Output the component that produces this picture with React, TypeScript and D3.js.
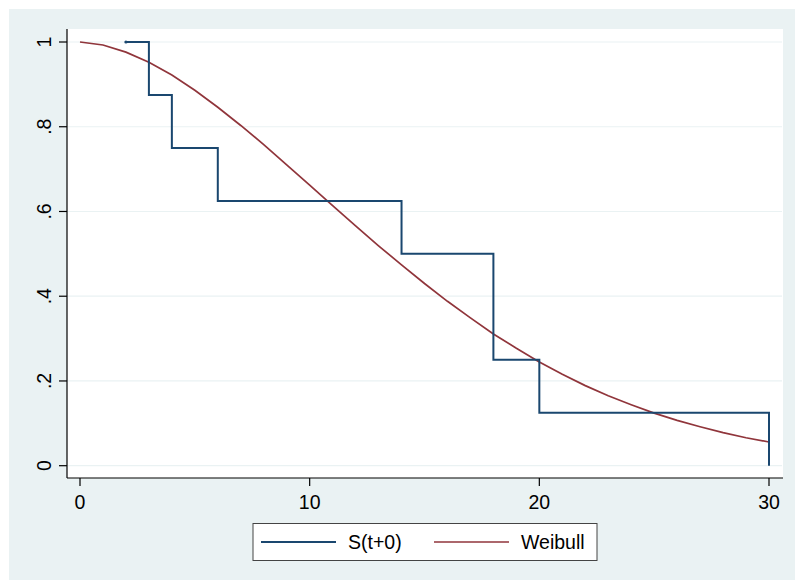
import React from "react";
import * as d3 from "d3";

const kmTimes = [2, 3, 4, 6, 14, 18, 20, 30];
const kmSurv = [1, 0.875, 0.75, 0.625, 0.5, 0.25, 0.125, 0];

const weibullTimes = [0,1,2,3,4,5,6,7,8,9,10,11,12,13,14,15,16,17,18,19,20,21,22,23,24,25,26,27,28,29,30];
const weibullSurv = [1,0.993,0.976,0.952,0.922,0.886,0.846,0.803,0.758,0.710,0.662,0.614,0.566,0.519,0.474,0.430,0.388,0.349,0.311,0.277,0.245,0.216,0.189,0.165,0.144,0.124,0.107,0.092,0.078,0.066,0.056];

const xTicks = [0, 10, 20, 30];
const yTicks = [0, 0.2, 0.4, 0.6, 0.8, 1];
const yTickLabels = ["0", ".2", ".4", ".6", ".8", "1"];
const legendLabels = ["S(t+0)", "Weibull"];

const NAVY = "#1a476f";
const RED = "#90353b";
const BG = "#eaf2f3";
const FONT = "'Liberation Sans', Arial, sans-serif";
const FS = 19.5;

export default function App() {
  const x = d3.scaleLinear().domain([0, 30]).range([80, 769]);
  const y = d3.scaleLinear().domain([0, 1]).range([465.7, 42]);

  const km = kmTimes.map((t, i) => [t, kmSurv[i]] as [number, number]);
  const wb = weibullTimes.map((t, i) => [t, weibullSurv[i]] as [number, number]);

  const kmLine = d3.line<[number, number]>().x(d => x(d[0])).y(d => y(d[1])).curve(d3.curveStepAfter);
  const wbLine = d3.line<[number, number]>().x(d => x(d[0])).y(d => y(d[1]));

  const plotL = 67, plotR = 783, plotT = 29, plotB = 478;

  return (
    <svg width={795} height={580} style={{ position: "absolute", left: 0, top: 0 }} fontFamily={FONT}>
      <rect x={0} y={0} width={795} height={580} fill="#ffffff" />
      <rect x={9} y={9} width={786} height={571} fill={BG} />
      <rect x={plotL} y={plotT} width={plotR - plotL} height={plotB - plotT} fill="#ffffff" />
      {yTicks.map(v => (
        <line key={"g" + v} x1={plotL} x2={plotR - 1} y1={y(v)} y2={y(v)} stroke={BG} strokeWidth={1.2} />
      ))}
      <path d={wbLine(wb) || ""} fill="none" stroke={RED} strokeWidth={1.7} />
      <path d={kmLine(km) || ""} fill="none" stroke={NAVY} strokeWidth={2} />
      <circle cx={x(kmTimes[0])} cy={y(kmSurv[0])} r={1.6} fill={NAVY} />
      {/* y axis */}
      <line x1={plotL} x2={plotL} y1={plotT} y2={plotB} stroke="#000" strokeWidth={1.2} />
      {yTicks.map((v, i) => (
        <g key={"y" + v}>
          <line x1={59} x2={plotL} y1={y(v)} y2={y(v)} stroke="#000" strokeWidth={1.2} />
          <text transform={`translate(51,${y(v)}) rotate(-90)`} textAnchor="middle" fontSize={FS} fill="#000">
            {yTickLabels[i]}
          </text>
        </g>
      ))}
      {/* x axis */}
      <line x1={plotL} x2={plotR} y1={plotB} y2={plotB} stroke="#000" strokeWidth={1.2} />
      {xTicks.map(v => (
        <g key={"x" + v}>
          <line x1={x(v)} x2={x(v)} y1={plotB} y2={486} stroke="#000" strokeWidth={1.2} />
          <text x={x(v)} y={509} textAnchor="middle" fontSize={FS} fill="#000">{v}</text>
        </g>
      ))}
      {/* legend */}
      <rect x={253} y={523.5} width={344} height={37} fill="#ffffff" stroke="#444" strokeWidth={1} />
      <line x1={261} x2={336} y1={542} y2={542} stroke={NAVY} strokeWidth={2} />
      <text x={348} y={549} fontSize={FS} fill="#000">{legendLabels[0]}</text>
      <line x1={434} x2={509} y1={542} y2={542} stroke={RED} strokeWidth={1.7} />
      <text x={521} y={549} fontSize={FS} fill="#000">{legendLabels[1]}</text>
    </svg>
  );
}
